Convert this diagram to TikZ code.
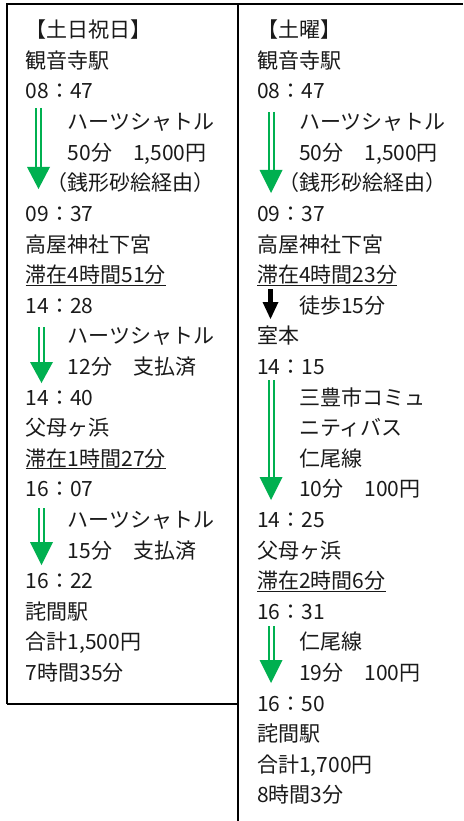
\documentclass[tikz,border=0pt]{standalone}
\usepackage{fontspec}
\setmainfont{Noto Sans CJK JP}
\definecolor{arrowgreen}{HTML}{00B050}
\definecolor{inkc}{HTML}{1A1A1A}
\begin{document}
\begin{tikzpicture}[x=1pt,y=-1pt,
  txt/.style={anchor=base west, inner sep=0pt, text=inkc, font=\fontsize{21}{21}\selectfont},
  frame/.style={draw=black, line width=2pt},
  uline/.style={draw=inkc, line width=1.1pt},
  gshaft/.style={draw=arrowgreen, line width=2pt, double=white, double distance=3pt},
  ghead/.style={fill=arrowgreen},
  kshaft/.style={draw=black, line width=4.5pt},
  khead/.style={fill=black}]
\useasboundingbox (0,0) rectangle (463,821);
\fill[white] (0,0) rectangle (463,821);

% frame
\draw[frame] (7,704) -- (7,4) -- (463,4);
\draw[frame] (7,704) -- (238,704);
\draw[frame] (238,4) -- (238,821);

% left column
\node[txt] (L0) at (25.5,37.8) {【土日祝日】};
\node[txt] (L1) at (25.5,68.4) {観音寺駅};
\node[txt] (L2) at (25.5,99.0) {08：47};
\node[txt] (L3) at (67.5,129.6) {ハーツシャトル};
\node[txt] (L4) at (67.5,160.2) {50分　1,500円};
\node[txt] (L5) at (46.5,190.8) {（銭形砂絵経由）};
\node[txt] (L6) at (25.5,221.4) {09：37};
\node[txt] (L7) at (25.5,252.0) {高屋神社下宮};
\node[txt] (L8) at (25.5,282.6) {滞在4時間51分};
\node[txt] (L9) at (25.5,313.2) {14：28};
\node[txt] (L10) at (67.5,343.8) {ハーツシャトル};
\node[txt] (L11) at (67.5,374.4) {12分　支払済};
\node[txt] (L12) at (25.5,405.0) {14：40};
\node[txt] (L13) at (25.5,435.6) {父母ヶ浜};
\node[txt] (L14) at (25.5,466.2) {滞在1時間27分};
\node[txt] (L15) at (25.5,496.8) {16：07};
\node[txt] (L16) at (67.5,527.4) {ハーツシャトル};
\node[txt] (L17) at (67.5,558.0) {15分　支払済};
\node[txt] (L18) at (25.5,588.6) {16：22};
\node[txt] (L19) at (25.5,619.2) {詫間駅};
\node[txt] (L20) at (25.5,649.8) {合計1,500円};
\node[txt] (L21) at (25.5,680.4) {7時間35分};

% right column
\node[txt] (R0) at (257,37.8) {【土曜】};
\node[txt] (R1) at (257,68.4) {観音寺駅};
\node[txt] (R2) at (257,99.0) {08：47};
\node[txt] (R3) at (299,129.6) {ハーツシャトル};
\node[txt] (R4) at (299,160.2) {50分　1,500円};
\node[txt] (R5) at (278,190.8) {（銭形砂絵経由）};
\node[txt] (R6) at (257,221.4) {09：37};
\node[txt] (R7) at (257,252.0) {高屋神社下宮};
\node[txt] (R8) at (257,282.6) {滞在4時間23分};
\node[txt] (R9) at (299,313.2) {徒歩15分};
\node[txt] (R10) at (257,343.8) {室本};
\node[txt] (R11) at (257,374.4) {14：15};
\node[txt] (R12) at (299,405.0) {三豊市コミュ};
\node[txt] (R13) at (299,435.6) {ニティバス};
\node[txt] (R14) at (299,466.2) {仁尾線};
\node[txt] (R15) at (299,496.8) {10分　100円};
\node[txt] (R16) at (257,527.4) {14：25};
\node[txt] (R17) at (257,558.0) {父母ヶ浜};
\node[txt] (R18) at (257,588.6) {滞在2時間6分};
\node[txt] (R19) at (257,619.2) {16：31};
\node[txt] (R20) at (299,649.8) {仁尾線};
\node[txt] (R21) at (299,680.4) {19分　100円};
\node[txt] (R22) at (257,711.0) {16：50};
\node[txt] (R23) at (257,741.6) {詫間駅};
\node[txt] (R24) at (257,772.2) {合計1,700円};
\node[txt] (R25) at (257,802.8) {8時間3分};

% underlines
\foreach \n in {L8,L14,R8,R18}
  \draw[uline] ([yshift=-2.5pt]\n.base west) -- ([yshift=-2.5pt]\n.base east);

% green arrows: start, head base, tip
\coordinate (la1s) at (38.5,108); \coordinate (la1h) at (38.5,167); \coordinate (la1t) at (38.5,189);
\coordinate (la2s) at (41.5,327); \coordinate (la2h) at (41.5,362); \coordinate (la2t) at (41.5,383);
\coordinate (la3s) at (41.5,508); \coordinate (la3h) at (41.5,542); \coordinate (la3t) at (41.5,565);
\coordinate (ra1s) at (271,112); \coordinate (ra1h) at (271,170); \coordinate (ra1t) at (271,193);
\coordinate (ra2s) at (271,380); \coordinate (ra2h) at (271,477); \coordinate (ra2t) at (271,500);
\coordinate (ra3s) at (271,626); \coordinate (ra3h) at (271,660); \coordinate (ra3t) at (271,683);
\foreach \a in {la1,la2,la3,ra1,ra2,ra3}{
  \draw[gshaft] (\a s) -- (\a h);
  \fill[ghead] ([xshift=-11.5pt]\a h) -- ([xshift=11.5pt]\a h) -- (\a t) -- cycle;
}

% black walking arrow
\coordinate (kas) at (270.5,289); \coordinate (kah) at (270.5,302); \coordinate (kat) at (270.5,319);
\draw[kshaft] (kas) -- ([yshift=-1pt]kah);
\fill[khead] ([xshift=-8pt]kah) -- ([xshift=8pt]kah) -- (kat) -- cycle;
\end{tikzpicture}
\end{document}
